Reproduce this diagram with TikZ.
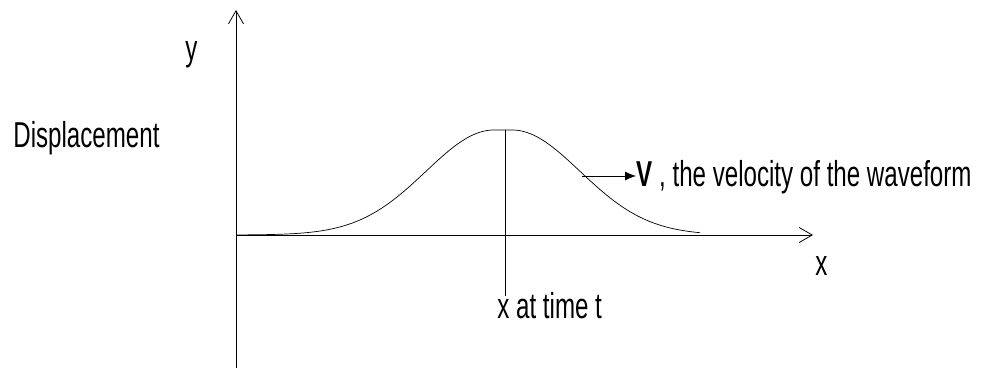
\documentclass[tikz,border=0pt]{standalone}
\usepackage{fontspec}
\setmainfont[FakeStretch=0.67]{Liberation Sans}
\usetikzlibrary{arrows.meta}
\begin{document}
\begin{tikzpicture}[x=1pt, y=-1pt, line width=0.8pt,
  axis/.style={-{Straight Barb[length=13pt, width=15pt, line width=0.8pt]}},
  lbl/.style={font=\fontsize{36}{40}\selectfont, inner sep=0pt, anchor=base west}]
  \useasboundingbox (0,0) rectangle (990,371);
  % axes
  \coordinate (O) at (236,235);
  \coordinate (ybot) at (236,368);
  \coordinate (ytop) at (236,10);
  \coordinate (xend) at (813,235);
  \draw[axis] (ybot) -- (ytop);
  \draw[axis] (O) -- (xend);
  % pulse
  \draw[line width=0.7pt] plot[domain=236:700, samples=140]
    (\x, {235-105*exp(-0.5*(max(abs(\x-503)-9,0)/68)^2)});
  \coordinate (peak) at (505,130);
  \coordinate (foot) at (505,296);
  \draw[line width=0.7pt] (peak) -- (foot);
  % labels
  \node[lbl] (ylab) at (185,61) {y};
  \node[lbl] (disp) at (13,148) {Displacement};
  \node[lbl] (xlab) at (815,276) {x};
  \node[lbl] (tlab) at (497,318) {x at time t};
  \node[lbl] (vel) at (636,187) {\textbf{V} , the velocity of the waveform};
  \coordinate (tail) at (582,176);
  \draw[-{Latex[length=11pt, width=9pt]}] (tail) -- (tail -| vel.west);
\end{tikzpicture}
\end{document}
